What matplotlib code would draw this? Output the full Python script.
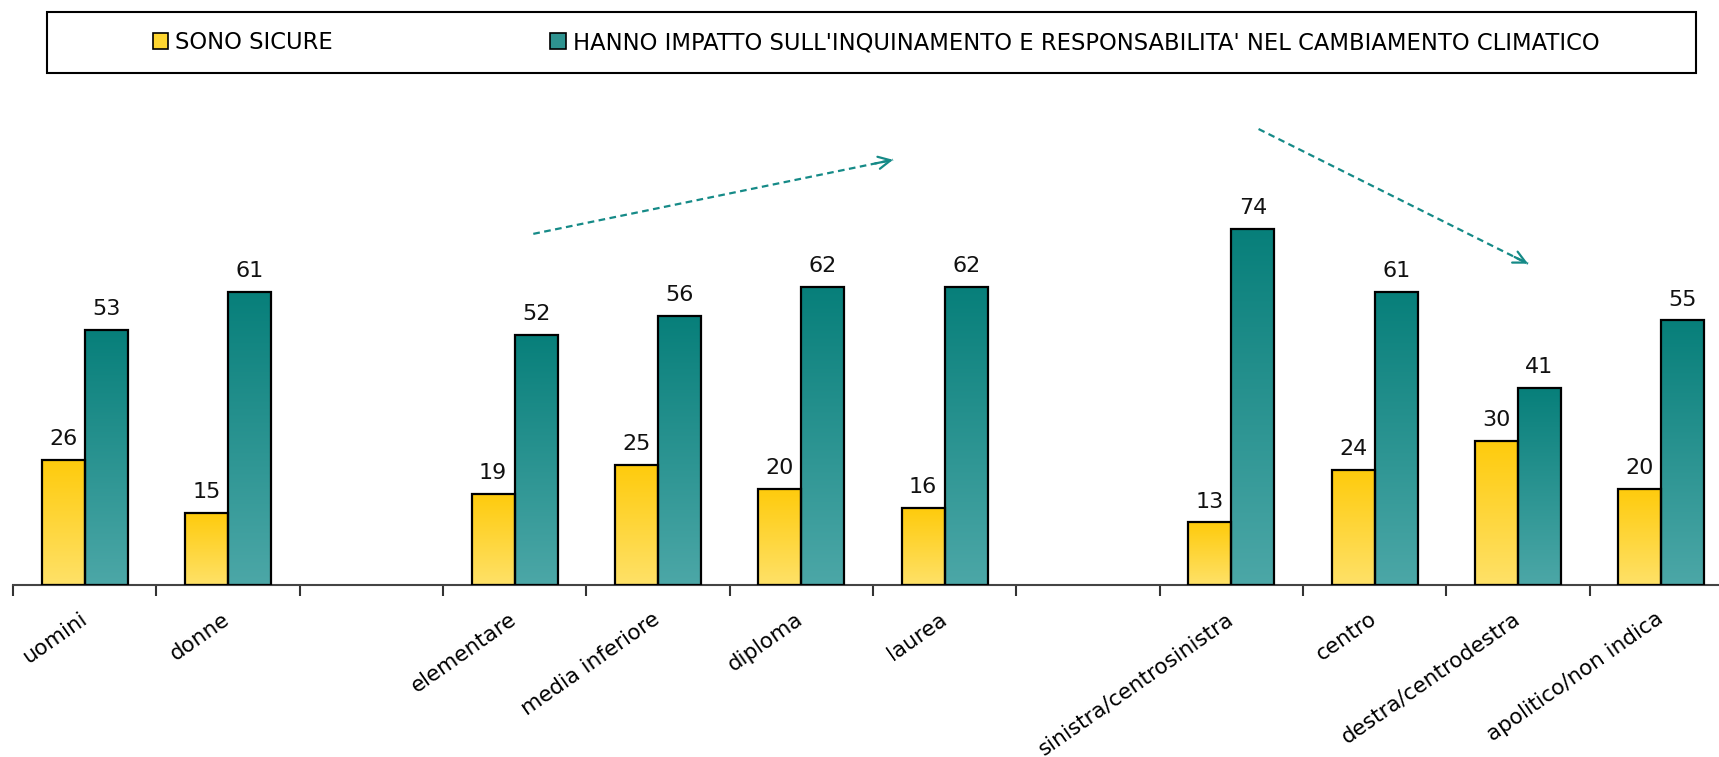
import numpy as np
import matplotlib
matplotlib.use("Agg")
import matplotlib.pyplot as plt
from matplotlib.patches import Patch, Rectangle
from matplotlib.colors import LinearSegmentedColormap

# categories (empty strings are the gaps between groups)
categories = ['uomini', 'donne', '', 'elementare', 'media inferiore', 'diploma', 'laurea', '',
              'sinistra/centrosinistra', 'centro', 'destra/centrodestra', 'apolitico/non indica']
sono_sicure = [26, 15, np.nan, 19, 25, 20, 16, np.nan, 13, 24, 30, 20]
impatto = [53, 61, np.nan, 52, 56, 62, 62, np.nan, 74, 61, 41, 55]
series_labels = ['SONO SICURE',
                 "HANNO IMPATTO SULL'INQUINAMENTO E RESPONSABILITA' NEL CAMBIAMENTO CLIMATICO"]

# trend arrows (data coords: start, end)
arrow_up = ((3.13, 73.0), (5.64, 88.4))
arrow_down = ((8.19, 94.8), (10.07, 66.8))

plt.rcParams['font.family'] = ['DejaVu Sans']

yellow_cmap = LinearSegmentedColormap.from_list('y', ['#FEE168', '#FFCB0C'])
teal_cmap = LinearSegmentedColormap.from_list('t', ['#4CA7A7', '#077F7A'])

W, H = 1719, 757
fig = plt.figure(figsize=(W / 100, H / 100), dpi=100)
ax = fig.add_axes([13 / W, 172 / H, 1720 / W, 481 / H])

x = np.arange(len(categories))
bw = 0.3
grad = np.linspace(0, 1, 256).reshape(-1, 1)


def gradient_bars(xpos, vals, cmap):
    bars = ax.bar(xpos, vals, width=bw, align='edge', facecolor='none',
                  edgecolor='black', linewidth=1.6, zorder=3)
    for b, v in zip(bars, vals):
        if np.isnan(v):
            continue
        x0, w, h = b.get_x(), b.get_width(), b.get_height()
        im = ax.imshow(grad, cmap=cmap, origin='lower', aspect='auto',
                       extent=(x0, x0 + w, 0, h), zorder=2)
        im.set_clip_path(b)
        ax.annotate(f'{int(v)}', (x0 + w / 2, h), xytext=(0, 15),
                    textcoords='offset points', ha='center', va='center',
                    fontsize=16, color='#111111')
    return bars


gradient_bars(x - bw, sono_sicure, yellow_cmap)
gradient_bars(x, impatto, teal_cmap)

ax.set_xlim(-0.5, len(categories) - 0.5)
ax.set_ylim(0, 100)

for s in ['top', 'right', 'left']:
    ax.spines[s].set_visible(False)
ax.spines['bottom'].set_color('#444444')
ax.spines['bottom'].set_linewidth(1.5)
ax.set_yticks([])

ax.set_xticks(np.arange(len(categories) + 1) - 0.5)
ax.set_xticklabels([])
ax.tick_params(axis='x', which='major', length=8, width=1.5, color='#333333', direction='out')
ax.set_xticks(x, minor=True)
ax.set_xticklabels(categories, minor=True, fontsize=15.5, rotation=35,
                   ha='right', va='center', rotation_mode='anchor')
ax.tick_params(axis='x', which='minor', length=0, pad=23)

# trend arrows: dashed line with a solid open head
for (x0, y0), (x1, y1) in [arrow_up, arrow_down]:
    ax.plot([x0, x1], [y0, y1], linestyle=(0, (3, 2)), color='#158A87', lw=1.6,
            zorder=4, clip_on=False)
    ax.annotate('', xy=(x1, y1), xytext=(x1 - (x1 - x0) * 0.05, y1 - (y1 - y0) * 0.05),
                arrowprops=dict(arrowstyle='->', color='#158A87', lw=1.6,
                                mutation_scale=22, shrinkA=0, shrinkB=0),
                annotation_clip=False)

# legend box
fig.patches.append(Rectangle((47 / W, 1 - 73 / H), 1649 / W, 61 / H,
                             transform=fig.transFigure, fill=False,
                             edgecolor='black', linewidth=1.5))
handles = [Patch(facecolor='#FFD630', edgecolor='black', linewidth=1.2),
           Patch(facecolor='#2E9390', edgecolor='black', linewidth=1.2)]
fig.legend(handles, series_labels, loc='center', bbox_to_anchor=(876 / W, 1 - 42.5 / H),
           ncol=2, frameon=False, fontsize=16.3, handlelength=0.7, handleheight=0.7,
           handletextpad=0.3, columnspacing=9.6)

fig.savefig('out.png', dpi=100)
